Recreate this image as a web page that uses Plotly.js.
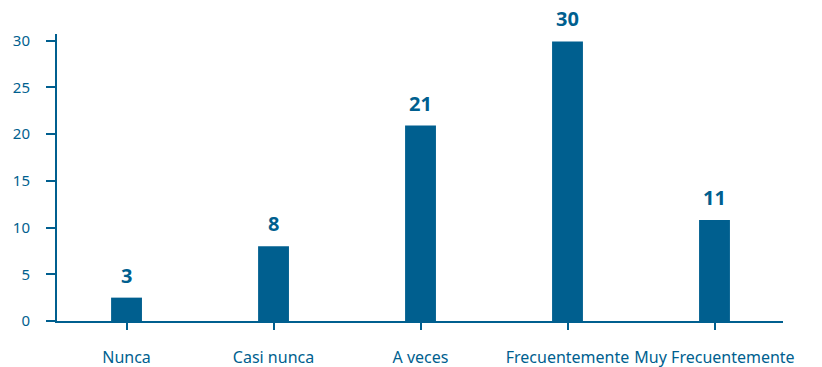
<!DOCTYPE html>
<html>
<head>
<meta charset="utf-8">
<script src="https://cdn.plot.ly/plotly-3.0.1.min.js"></script>
<style>html,body{margin:0;padding:0;background:#fff;}#chart{width:822px;height:367px;}</style>
</head>
<body>
<div id="chart"></div>
<script>
const categories = ["Nunca", "Casi nunca", "A veces", "Frecuentemente", "Muy Frecuentemente"];
const values = [2.5, 8, 20.9, 29.9, 10.8];
const labels = ["3", "8", "21", "30", "11"];
const yTicks = [0, 5, 10, 15, 20, 25, 30];

const blue = "#005f8f";
const trace = {
  type: "bar",
  x: categories,
  y: values,
  width: 0.21,
  marker: {color: blue},
  hoverinfo: "none"
};
const annotations = categories.map((c, i) => ({
  x: c, y: values[i], xref: "x", yref: "y",
  text: labels[i], showarrow: false,
  yanchor: "bottom", yshift: 7,
  font: {family: "Noto Sans", size: 20, color: blue, weight: "bold"}
}));
const layout = {
  width: 822, height: 367,
  margin: {l: 57, r: 39, t: 34, b: 46},
  paper_bgcolor: "#fff", plot_bgcolor: "#fff",
  showlegend: false,
  annotations: annotations,
  xaxis: {
    range: [-0.473, 4.466],
    showline: true, linecolor: blue, linewidth: 2,
    ticks: "outside", ticklen: 7, tickwidth: 2, tickcolor: blue,
    ticklabelstandoff: 14,
    tickfont: {family: "Noto Sans", size: 16, color: blue},
    showgrid: false, zeroline: false, fixedrange: true
  },
  yaxis: {
    range: [0, 30.7],
    tickvals: yTicks,
    showline: true, linecolor: blue, linewidth: 2,
    ticks: "outside", ticklen: 9, tickwidth: 2, tickcolor: blue,
    ticklabelstandoff: 13,
    tickfont: {family: "Noto Sans", size: 15, color: blue},
    showgrid: false, zeroline: false, fixedrange: true
  }
};
Plotly.newPlot("chart", [trace], layout, {displayModeBar: false, staticPlot: true});
</script>
</body>
</html>
